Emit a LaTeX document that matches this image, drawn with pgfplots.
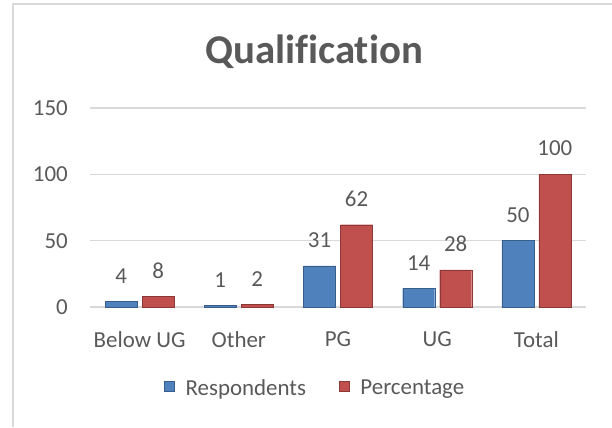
\documentclass[border=0pt]{standalone}
\usepackage{pgfplots}
\pgfplotsset{compat=1.18}
\usepackage{fontspec}
\setmainfont{Carlito}[Ligatures={NoCommon}]
\definecolor{txt}{HTML}{595959}
\definecolor{gridc}{HTML}{D9D9D9}
\definecolor{bfill}{HTML}{4F81BD}
\definecolor{bedge}{HTML}{385D8A}
\definecolor{rfill}{HTML}{C0504D}
\definecolor{redge}{HTML}{8C3836}
\begin{document}
\begin{tikzpicture}[x=1bp,y=1bp]
\path[use as bounding box] (0,0) rectangle (612,427);
\draw[gridc,line width=1.5bp] (13,0) -- (13,423) -- (612,423);
\node[txt,font=\fontsize{41}{46}\selectfont\bfseries,anchor=base] at (314,364) {Qualification};
\begin{axis}[
  at={(90bp,120bp)}, anchor=south west, scale only axis,
  width=496bp, height=199bp,
  xmin=-0.5, xmax=4.5, ymin=0, ymax=150,
  ytick={0,50,100,150},
  xtick={0,1,2,3,4},
  xticklabels={Below UG,Other,PG,UG,Total},
  axis line style={draw=none},
  tick style={draw=none},
  ymajorgrids, grid style={gridc,line width=1.5bp},
  tick label style={txt,font=\fontsize{23}{26}\selectfont},
  /pgf/number format/assume math mode=true,
  yticklabel style={anchor=east,inner sep=0pt,xshift=-22bp},
  xticklabel style={anchor=north,inner sep=0pt,yshift=-20bp},
  ybar, bar width=32bp,
  nodes near coords,
  every node near coord/.append style={txt,font=\fontsize{23}{26}\selectfont,inner sep=0pt,anchor=south,yshift=18bp},
  legend style={at={(0.452,-0.407)}, anchor=center, draw=none, fill=none,
    legend columns=2, font=\fontsize{23}{26}\selectfont, text=txt,
    /tikz/every odd column/.append style={column sep=11bp},
    /tikz/every even column/.append style={column sep=33bp},
    nodes={inner sep=0pt}},
  legend image code/.code={\draw[#1] (0bp,-3bp) rectangle (10bp,7bp);},
]
\addplot[fill=bfill, draw=bedge, bar shift=-18.5bp] coordinates {(0,4) (1,1) (2,31) (3,14) (4,50)};
\addplot[fill=rfill, draw=redge, bar shift=18.5bp] coordinates {(0,8) (1,2) (2,62) (3,28) (4,100)};
\legend{Respondents,Percentage}
\end{axis}
\end{tikzpicture}
\end{document}
